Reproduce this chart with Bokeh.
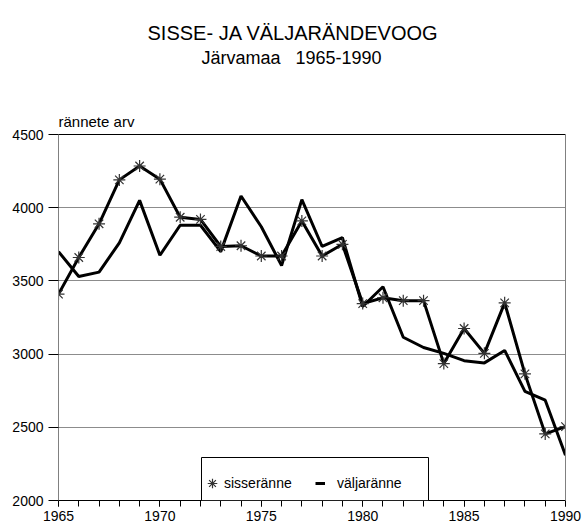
from bokeh.plotting import figure
from bokeh.models import (Range1d, FixedTicker, Label, Legend, LegendItem,
                          BoxAnnotation, Span, LinearAxis)
from bokeh.embed import file_html
from bokeh.resources import INLINE

# ---- data ----
years = list(range(1965, 1991))
sisseranne = [3410, 3660, 3890, 4190, 4285, 4195, 3935, 3920, 3735, 3740,
              3670, 3670, 3910, 3670, 3750, 3345, 3385, 3365, 3365, 2935,
              3175, 3005, 3350, 2865, 2455, 2505]
valjaranne = [3700, 3530, 3560, 3760, 4050, 3675, 3880, 3880, 3700, 4080,
              3870, 3605, 4055, 3735, 3795, 3325, 3460, 3115, 3045, 3005,
              2955, 2940, 3025, 2745, 2685, 2310]
x_ticks = [1965, 1970, 1975, 1980, 1985, 1990]
y_ticks = [2000, 2500, 3000, 3500, 4000, 4500]
series_names = ["sisseränne", "väljaränne"]
title_text = "SISSE- JA VÄLJARÄNDEVOOG"
subtitle_text = "Järvamaa \u00a0 1965-1990"
y_label_text = "rännete arv"

FONT = "Liberation Sans"
Y_MIN, Y_MAX = 2000, 4500
# plot frame extended upwards so the titles can sit inside it (space above 4500)
Y_TOP = Y_MAX + 124 * (Y_MAX - Y_MIN) / 366

p = figure(width=584, height=528, output_backend="svg", toolbar_location=None,
           x_range=Range1d(1965, 1990), y_range=Range1d(Y_MIN, Y_TOP),
           min_border_left=58, min_border_right=19,
           min_border_top=10, min_border_bottom=28)
p.title.visible = False
p.background_fill_color = "white"
p.border_fill_color = "white"
p.outline_line_color = None

p.xgrid.visible = False
p.ygrid.ticker = FixedTicker(ticks=y_ticks)
p.ygrid.grid_line_color = "#8c8c8c"
p.ygrid.grid_line_width = 1

# x axis
p.xaxis.ticker = FixedTicker(ticks=x_ticks, minor_ticks=years)
p.xaxis.axis_line_color = "black"
p.xaxis.major_tick_line_color = "black"
p.xaxis.minor_tick_line_color = "black"
p.xaxis.major_tick_in = 0
p.xaxis.major_tick_out = 6
p.xaxis.minor_tick_in = 0
p.xaxis.minor_tick_out = 6
p.xaxis.major_label_standoff = 4
p.xaxis.major_label_text_font = FONT
p.xaxis.major_label_text_font_size = "14px"
p.xaxis.major_label_text_color = "black"

# y axis
p.yaxis.ticker = FixedTicker(ticks=y_ticks)
p.yaxis.bounds = (Y_MIN, Y_MAX)
p.yaxis.axis_line_color = "#808080"
p.yaxis.major_tick_line_color = "black"
p.yaxis.minor_tick_line_color = None
p.yaxis.major_tick_in = 0
p.yaxis.major_tick_out = 10
p.yaxis.major_label_standoff = 5
p.yaxis.major_label_text_font = FONT
p.yaxis.major_label_text_font_size = "14px"
p.yaxis.major_label_text_color = "black"

# right border of the plot area
right_axis = LinearAxis(ticker=FixedTicker(ticks=[]), bounds=(Y_MIN, Y_MAX),
                        axis_line_color="#808080", major_tick_line_color=None,
                        minor_tick_line_color=None)
p.add_layout(right_axis, "right")

# top border at 4500
p.add_layout(Span(location=Y_MAX, dimension="width", line_color="black", line_width=1))

# series
r_in_line = p.line(years, sisseranne, line_color="black", line_width=3)
r_out_line = p.line(years, valjaranne, line_color="black", line_width=3)
r_in_star = p.scatter(years, sisseranne, marker="asterisk", size=12,
                      line_color="#333333", line_width=1.2)

# titles
p.add_layout(Label(x=89, y=468, x_units="screen", y_units="screen",
                   text=title_text, text_align="left", text_baseline="alphabetic",
                   text_font=FONT, text_font_size="20px", text_color="black"))
p.add_layout(Label(x=143, y=443, x_units="screen", y_units="screen",
                   text=subtitle_text, text_align="left", text_baseline="alphabetic",
                   text_font=FONT, text_font_size="18px", text_color="black"))
p.add_layout(Label(x=0, y=379, x_units="screen", y_units="screen",
                   text=y_label_text, text_align="left", text_baseline="alphabetic",
                   text_font=FONT, text_font_size="15px", text_color="black"))

# legend box
p.add_layout(BoxAnnotation(left=143, right=370, bottom=0, top=43,
                           left_units="screen", right_units="screen",
                           bottom_units="screen", top_units="screen",
                           fill_color="white", fill_alpha=1,
                           line_color="black", line_width=1, line_alpha=1))

leg1 = Legend(items=[LegendItem(label=series_names[0], renderers=[r_in_star])],
              location=(142, 2), orientation="horizontal", padding=0, margin=0,
              glyph_width=24, glyph_height=30, label_standoff=0,
              background_fill_alpha=0, border_line_alpha=0,
              label_text_font=FONT, label_text_font_size="14px",
              label_text_color="black")
leg2 = Legend(items=[LegendItem(label=series_names[1], renderers=[r_out_line])],
              location=(257, 2), orientation="horizontal", padding=0, margin=0,
              glyph_width=10, glyph_height=30, label_standoff=12,
              background_fill_alpha=0, border_line_alpha=0,
              label_text_font=FONT, label_text_font_size="14px",
              label_text_color="black")
p.add_layout(leg1)
p.add_layout(leg2)

open("out.html", "w").write(file_html(p, INLINE))
